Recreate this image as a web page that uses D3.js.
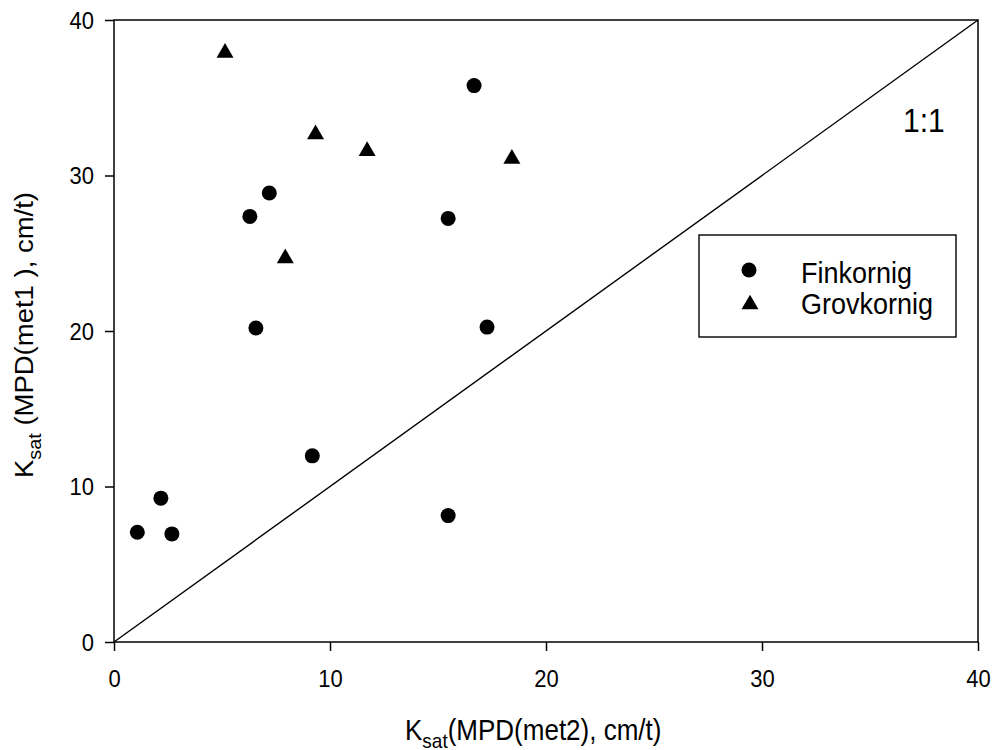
<!DOCTYPE html>
<html>
<head>
<meta charset="utf-8">
<script src="https://cdn.jsdelivr.net/npm/d3@7"></script>
<style>
  body { margin: 0; background: #fff; }
  svg { display: block; }
  text { font-family: "Liberation Sans", Arial, sans-serif; fill: #000; }
</style>
</head>
<body>
<svg id="chart" width="994" height="750"></svg>
<script>
// data (x = met2, y = met1)
const finX = [1.08, 2.17, 2.68, 9.18, 15.47, 16.67, 7.19, 6.29, 15.47, 6.57, 17.27];
const finY = [7.06, 9.25, 6.95, 11.97, 8.13, 35.78, 28.87, 27.37, 27.24, 20.19, 20.25];
const grovX = [5.14, 9.33, 11.72, 18.42, 7.93];
const grovY = [38.05, 32.81, 31.73, 31.23, 24.83];
const tickValues = [0, 10, 20, 30, 40];
const seriesNames = ["Finkornig", "Grovkornig"];

const svg = d3.select("#chart");
const margin = { left: 114, top: 20, right: 16, bottom: 108 };
const width = 994 - margin.left - margin.right;   // 864
const height = 750 - margin.top - margin.bottom;  // 622
const stretch = 1.1; // text in the reference is a bit taller than wide

const x = d3.scaleLinear().domain([0, 40]).range([0, width]);
const y = d3.scaleLinear().domain([0, 40]).range([height, 0]);

const g = svg.append("g").attr("transform", `translate(${margin.left},${margin.top})`);

// frame
g.append("rect")
    .attr("width", width).attr("height", height)
    .attr("fill", "none").attr("stroke", "#000").attr("stroke-width", 1.5);

// 1:1 line
g.append("line")
    .attr("x1", x(0)).attr("y1", y(0)).attr("x2", x(40)).attr("y2", y(40))
    .attr("stroke", "#000").attr("stroke-width", 1.4);

// axes
const xAxis = g.append("g")
    .attr("transform", `translate(0,${height})`)
    .call(d3.axisBottom(x).tickValues(tickValues).tickSize(9).tickPadding(0));
xAxis.select(".domain").remove();
xAxis.selectAll(".tick line").attr("stroke-width", 1.5);
xAxis.selectAll(".tick text")
    .attr("font-size", 22).attr("fill", "#000")
    .attr("font-family", "Liberation Sans, Arial, sans-serif")
    .attr("dy", null)
    .attr("y", 45 / stretch)
    .attr("transform", `scale(1,${stretch})`);

const yAxis = g.append("g")
    .call(d3.axisLeft(y).tickValues(tickValues).tickSize(9).tickPadding(0));
yAxis.select(".domain").remove();
yAxis.selectAll(".tick line").attr("stroke-width", 1.5);
yAxis.selectAll(".tick text")
    .attr("font-size", 22).attr("fill", "#000")
    .attr("font-family", "Liberation Sans, Arial, sans-serif")
    .attr("x", -20)
    .attr("dy", "0.35em")
    .attr("transform", `scale(1,${stretch})`);

// points
const triSize = 125;
const triShift = Math.sqrt(triSize / (3 * Math.sqrt(3))) / 2; // centre bbox, not centroid
const finData = finX.map((v, i) => [v, finY[i]]);
const grovData = grovX.map((v, i) => [v, grovY[i]]);

g.append("g").selectAll("circle")
    .data(finData)
    .join("circle")
    .attr("cx", d => x(d[0])).attr("cy", d => y(d[1]))
    .attr("r", 7.5).attr("fill", "#000");

g.append("g").selectAll("path")
    .data(grovData)
    .join("path")
    .attr("d", d3.symbol(d3.symbolTriangle, triSize))
    .attr("transform", d => `translate(${x(d[0])},${y(d[1]) + triShift})`)
    .attr("fill", "#000");

// 1:1 label
svg.append("text")
    .attr("transform", `translate(903,132) scale(1,${stretch})`)
    .attr("font-size", 30)
    .text("1:1");

// legend
const leg = svg.append("g");
leg.append("rect")
    .attr("x", 699).attr("y", 235).attr("width", 257).attr("height", 102)
    .attr("fill", "#fff").attr("stroke", "#000").attr("stroke-width", 1.4);
leg.append("circle").attr("cx", 749).attr("cy", 270).attr("r", 7.5).attr("fill", "#000");
leg.append("path")
    .attr("d", d3.symbol(d3.symbolTriangle, triSize))
    .attr("transform", `translate(750,${302 + triShift})`)
    .attr("fill", "#000");
seriesNames.forEach((name, i) => {
    leg.append("text")
        .attr("transform", `translate(801,${283 + i * 31}) scale(1,${stretch})`)
        .attr("font-size", 27)
        .text(name);
});

// axis titles
const xt = svg.append("text")
    .attr("transform", `translate(405,740) scale(1,${stretch})`)
    .attr("font-size", 26);
xt.append("tspan").text("K");
xt.append("tspan").attr("font-size", 19).attr("dy", 7).text("sat");
xt.append("tspan").attr("dy", -7).text("(MPD(met2), cm/t)");

const yt = svg.append("text")
    .attr("transform", `translate(33,478) rotate(-90) scale(${stretch},1)`)
    .attr("font-size", 25);
yt.append("tspan").text("K");
yt.append("tspan").attr("font-size", 18).attr("dy", 8).text("sat");
yt.append("tspan").attr("dy", -8).text(" (MPD(met1 ), cm/t)");
</script>
</body>
</html>
